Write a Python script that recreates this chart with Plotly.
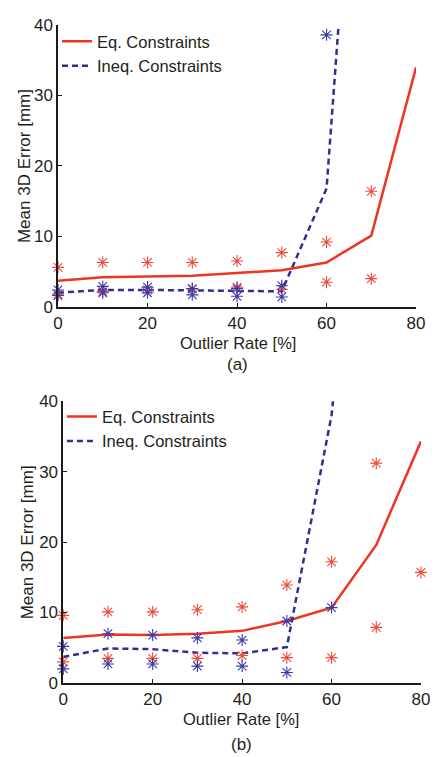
import plotly.graph_objects as go

# ---------------- data ----------------
outlier_rate = [0, 10, 20, 30, 40, 50, 60, 70, 80]

# (a)
a_eq_mean = [3.7, 4.2, 4.3, 4.4, 4.8, 5.2, 6.3, 10.1, 34.0]
a_ineq_mean = [2.0, 2.4, 2.4, 2.3, 2.2, 2.2, 16.8, 103.0]
a_eq_hi_x = [0, 10, 20, 30, 40, 50, 60, 70]
a_eq_hi = [5.6, 6.3, 6.3, 6.3, 6.5, 7.7, 9.2, 16.4]
a_eq_lo = [1.8, 2.2, 2.4, 2.5, 2.8, 2.5, 3.5, 4.0]
a_ineq_x = [0, 10, 20, 30, 40, 50, 60]
a_ineq_hi = [2.4, 2.9, 2.8, 2.6, 2.6, 3.0, 38.6]
a_ineq_lo = [1.6, 2.0, 2.0, 1.7, 1.5, 1.4, None]

# (b)
b_eq_mean = [6.4, 6.9, 6.8, 7.0, 7.4, 8.8, 10.7, 19.6, 34.3]
b_ineq_mean = [3.7, 4.9, 4.8, 4.3, 4.2, 5.1, 38.0, 100.0]
b_eq_hi_x = [0, 10, 20, 30, 40, 50, 60, 70, 80]
b_eq_hi = [9.6, 10.1, 10.1, 10.4, 10.8, 13.9, 17.2, 31.2, 15.7]
b_eq_lo = [3.0, 3.5, 3.5, 3.5, 3.9, 3.6, 3.6, 7.9, None]
b_ineq_x = [0, 10, 20, 30, 40, 50, 60]
b_ineq_hi = [5.2, 7.0, 6.8, 6.4, 6.1, 8.8, 10.7]
b_ineq_lo = [2.0, 2.7, 2.7, 2.4, 2.4, 1.5, None]

x_ticks = [0, 20, 40, 60, 80]
y_ticks = [0, 10, 20, 30, 40]
x_title = "Outlier Rate [%]"
y_title = "Mean 3D Error [mm]"
captions = ["(a)", "(b)"]

RED = "#EE3524"
BLUE = "#2E3192"
RED_M = "#F04A3A"
BLUE_M = "#3A3AA8"
TXT = "#231F20"
FONT = "Liberation Sans, Arial, sans-serif"

fig = go.Figure()


def add_panel(xa, ya, legend, eq_mean, ineq_mean, eq_x, eq_hi, eq_lo, in_x, in_hi, in_lo):
    fig.add_trace(go.Scatter(x=outlier_rate[:len(eq_mean)], y=eq_mean, mode="lines",
                             line=dict(color=RED, width=2.5), name="Eq. Constraints",
                             xaxis=xa, yaxis=ya, legend=legend))
    fig.add_trace(go.Scatter(x=outlier_rate[:len(ineq_mean)], y=ineq_mean, mode="lines",
                             line=dict(color=BLUE, width=2.5, dash="6px,4px"),
                             name="Ineq. Constraints",
                             xaxis=xa, yaxis=ya, legend=legend))
    for xs, ys, col in [(eq_x, eq_hi, RED_M), (eq_x, eq_lo, RED_M),
                        (in_x, in_hi, BLUE_M), (in_x, in_lo, BLUE_M)]:
        fig.add_trace(go.Scatter(x=xs, y=ys, mode="markers",
                                 marker=dict(symbol="asterisk-open", size=10, color=col,
                                             line=dict(color=col, width=1.1)),
                                 showlegend=False, cliponaxis=False,
                                 xaxis=xa, yaxis=ya))


add_panel("x", "y", "legend", a_eq_mean, a_ineq_mean, a_eq_hi_x, a_eq_hi, a_eq_lo,
          a_ineq_x, a_ineq_hi, a_ineq_lo)
add_panel("x2", "y2", "legend2", b_eq_mean, b_ineq_mean, b_eq_hi_x, b_eq_hi, b_eq_lo,
          b_ineq_x, b_ineq_hi, b_ineq_lo)

axis_common = dict(showgrid=False, zeroline=False, showline=True, linecolor="#1a1a1a",
                   linewidth=1.5, ticks="inside", ticklen=4, tickcolor="#1a1a1a",
                   tickfont=dict(size=17, color=TXT, family=FONT), mirror=False)

# The page body keeps its default 8px margin; positions below are page pixels.
L, T, PW, PH = 58, 16, 368, 667


def px(xp):
    return (xp - L) / PW


def py(yp):
    return (T + PH - yp) / PH


def text_ann(text, xp, yp, size=17, angle=0):
    return dict(text=text, x=px(xp), y=py(yp), xref="paper", yref="paper", showarrow=False,
                textangle=angle, font=dict(size=size, color=TXT, family=FONT),
                xanchor="center", yanchor="middle")


annotations = [
    text_ann(x_title, 240, 338, size=16.5),
    text_ann(y_title, 23.5, 159, angle=-90),
    text_ann(captions[0], 240, 360),
    text_ann(x_title, 244, 719, size=16.5),
    text_ann(y_title, 28, 540, angle=-90),
    text_ann(captions[1], 244, 745),
]

fig.update_layout(
    width=430, height=749,
    margin=dict(l=L - 8, r=430 - (L - 8) - PW, t=T - 8, b=749 - (T - 8) - PH),
    paper_bgcolor="white", plot_bgcolor="white",
    font=dict(family=FONT, color=TXT),
    xaxis=dict(domain=[0, px(421)], range=[0, 80], tickvals=x_ticks, anchor="y", **axis_common),
    yaxis=dict(domain=[py(301.7), 1], range=[0, 40], tickvals=y_ticks, anchor="x", **axis_common),
    xaxis2=dict(domain=[px(63.3), 1], range=[0, 80], tickvals=x_ticks, anchor="y2", **axis_common),
    yaxis2=dict(domain=[0, py(397.3)], range=[0, 40], tickvals=y_ticks, anchor="x2", **axis_common),
    legend=dict(x=px(57), y=py(15), xanchor="left", yanchor="top", bgcolor="rgba(0,0,0,0)",
                font=dict(size=16.5, color=TXT), tracegroupgap=0, itemwidth=30),
    legend2=dict(x=px(62), y=py(395.5), xanchor="left", yanchor="top", bgcolor="rgba(0,0,0,0)",
                 font=dict(size=16.5, color=TXT), tracegroupgap=0, itemwidth=30),
    annotations=annotations,
)

fig.write_html("out.html", config={"displayModeBar": False})
